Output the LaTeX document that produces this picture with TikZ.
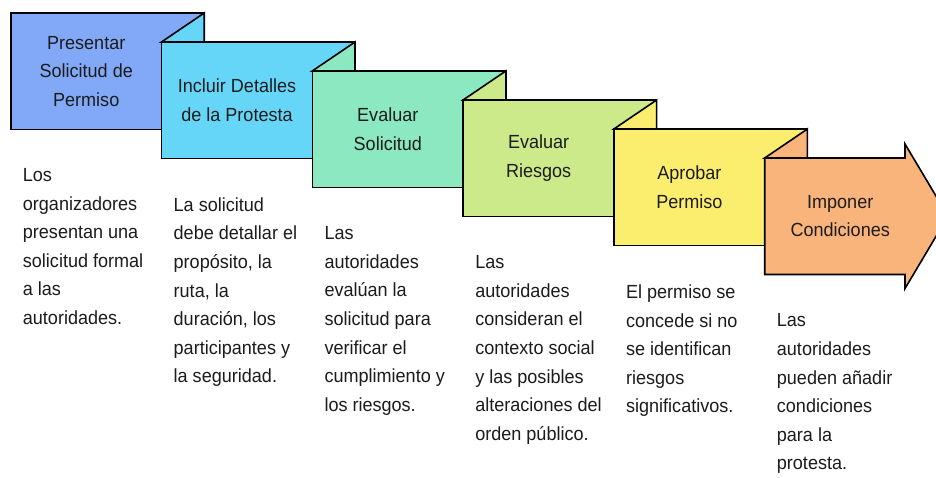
\documentclass[tikz,border=0pt]{standalone}
\usepackage{fontspec}
\setmainfont{Liberation Sans}[FakeStretch=0.95]
\definecolor{c1}{HTML}{82A9F8}
\definecolor{c2}{HTML}{66D6F8}
\definecolor{c3}{HTML}{8BE8C0}
\definecolor{c4}{HTML}{CDEA8B}
\definecolor{c5}{HTML}{FBEE6E}
\definecolor{c6}{HTML}{F9B47C}
\definecolor{ink}{HTML}{1C1C1C}
\begin{document}
\begin{tikzpicture}[x=1pt,y=-1pt,
  stepshape/.style={draw=black,line width=1.6pt,line join=miter},
  title/.style={font=\fontsize{19}{28.4}\selectfont,align=center,text=ink,inner sep=0pt},
  desc/.style={font=\fontsize{19}{28.6}\selectfont,align=left,anchor=north west,text=ink,inner sep=0pt}]
\clip (0,0) rectangle (936,477);
\fill[white] (0,0) rectangle (936,477);
% box 1
\filldraw[stepshape,fill=c1] (10.7,13) rectangle (204.2,129.5);
\filldraw[stepshape,fill=c2] (161.5,42) -- (204.2,13) -- (204.2,42) -- cycle;
% box 2
\filldraw[stepshape,fill=c2] (161.5,42) rectangle (355,158.5);
\filldraw[stepshape,fill=c3] (312.3,71) -- (355,42) -- (355,71) -- cycle;
% box 3
\filldraw[stepshape,fill=c3] (312.3,71) rectangle (505.8,187.5);
\filldraw[stepshape,fill=c4] (463.1,100) -- (505.8,71) -- (505.8,100) -- cycle;
% box 4
\filldraw[stepshape,fill=c4] (463.1,100) rectangle (656.6,216.5);
\filldraw[stepshape,fill=c5] (613.9,129) -- (656.6,100) -- (656.6,129) -- cycle;
% box 5
\filldraw[stepshape,fill=c5] (613.9,129) rectangle (807.4,245.5);
\filldraw[stepshape,fill=c6] (764.7,158) -- (807.4,129) -- (807.4,158) -- cycle;
% box 6 (arrow)
\filldraw[stepshape,fill=c6] (764.7,158) -- (905,158) -- (905,144) -- (948,216.2)
  -- (905,288.5) -- (905,274.5) -- (764.7,274.5) -- cycle;
% titles
\node[title] (t1) at (86.2,71.2) {Presentar\\Solicitud de\\Permiso};
\node[title] (t2) at (237,100.2) {Incluir Detalles\\de la Protesta};
\node[title] (t3) at (387.8,129.2) {Evaluar\\Solicitud};
\node[title] (t4) at (538.6,158.2) {Evaluar\\Riesgos};
\node[title] (t5) at (689.4,187.2) {Aprobar\\Permiso};
\node[title] (t6) at (840.2,216.2) {Imponer\\Condiciones};
% descriptions
\node[desc] (d1) at (22.7,168.2) {Los\\organizadores\\presentan una\\solicitud formal\\a las\\autoridades.};
\node[desc] (d2) at (173.5,197.3) {La solicitud\\debe detallar el\\propósito, la\\ruta, la\\duración, los\\participantes y\\la seguridad.};
\node[desc] (d3) at (324.3,226.4) {Las\\autoridades\\evalúan la\\solicitud para\\verificar el\\cumplimiento y\\los riesgos.};
\node[desc] (d4) at (475.1,255.5) {Las\\autoridades\\consideran el\\contexto social\\y las posibles\\alteraciones del\\orden público.};
\node[desc] (d5) at (625.9,284.6) {El permiso se\\concede si no\\se identifican\\riesgos\\significativos.};
\node[desc] (d6) at (776.7,313.7) {Las\\autoridades\\pueden añadir\\condiciones\\para la\\protesta.};
\end{tikzpicture}
\end{document}
